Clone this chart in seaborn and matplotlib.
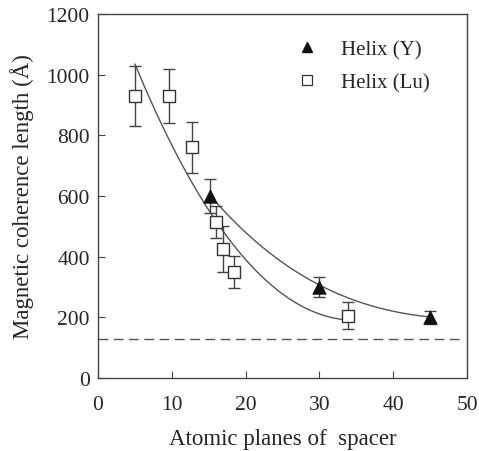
import numpy as np
import pandas as pd
import matplotlib
matplotlib.use("Agg")
import matplotlib.pyplot as plt
import seaborn as sns

# Helix (Y) data points
y_planes = [15.2, 30.0, 45.0]
y_length = [600, 300, 200]
y_err = [55, 33, 22]

# Helix (Lu) data points
lu_planes = [5.0, 9.6, 12.7, 16.0, 16.9, 18.4, 33.9]
lu_length = [930, 930, 760, 515, 425, 350, 205]
lu_err = [100, 90, 85, 52, 75, 52, 45]

# points
y_fit_x = [15.2, 19.0, 22.5, 24.6, 30.0, 35.0, 40.0, 44.7]
y_fit_v = [600, 505, 428, 390, 300, 255, 224, 200]
lu_fit_x = [5.0, 9.2, 12.3, 15.0, 18.5, 22.0, 24.8, 29.0, 33.5]
lu_fit_v = [1035, 803, 674, 549, 430, 339, 280, 225, 190]

limit_value = 130

sns.set_style("ticks")
plt.rcParams['font.family'] = ['Liberation Serif', 'DejaVu Serif']

fig = plt.figure(figsize=(4.79, 4.52), dpi=100)
ax = fig.add_axes([0.2046, 0.1615, 0.7704, 0.8053])

line_col = '#555555'

# smooth fit curves through the read points
for fx, fv in [(y_fit_x, y_fit_v), (lu_fit_x, lu_fit_v)]:
    coef = np.polyfit(fx, fv, 3)
    xs = np.linspace(fx[0], fx[-1], 200)
    curve = pd.DataFrame({'x': xs, 'v': np.polyval(coef, xs)})
    sns.lineplot(data=curve, x='x', y='v', ax=ax, color=line_col, lw=1.0)

ax.axhline(limit_value, xmin=0.0, xmax=0.99, color=line_col, lw=1.0,
           dashes=(7, 4))

# error bars
ax.errorbar(y_planes, y_length, yerr=y_err, fmt='none', ecolor='#444444',
            elinewidth=1.0, capsize=4, capthick=1.0, zorder=3)
ax.errorbar(lu_planes, lu_length, yerr=lu_err, fmt='none', ecolor='#444444',
            elinewidth=1.0, capsize=4, capthick=1.0, zorder=3)

sns.scatterplot(x=lu_planes, y=lu_length, ax=ax, marker='s', s=80,
                facecolor='white', edgecolor='#333333', linewidth=1.0,
                zorder=4)
sns.scatterplot(x=y_planes, y=y_length, ax=ax, marker='^', s=95,
                color='#111111', edgecolor='#111111', linewidth=0.5,
                zorder=5)

# legend
h1 = plt.Line2D([], [], marker='^', ls='none', color='#111111', ms=7.5)
h2 = plt.Line2D([], [], marker='s', ls='none', mfc='white', mec='#333333',
                ms=6.5, mew=0.9)
ax.legend([h1, h2], ['Helix (Y)', 'Helix (Lu)'], frameon=False,
          loc='upper right', bbox_to_anchor=(0.95, 0.98), fontsize=15,
          handletextpad=1.15, labelspacing=0.65, handlelength=1.0)

ax.set_xlim(0, 50)
ax.set_ylim(0, 1200)
ax.set_xticks([0, 10, 20, 30, 40, 50])
ax.set_yticks([0, 200, 400, 600, 800, 1000, 1200])
ax.tick_params(direction='in', length=5, width=0.8, labelsize=15.5,
               color='#444444')
ax.tick_params(axis='x', pad=12)
ax.tick_params(axis='y', pad=6)
for sp in ax.spines.values():
    sp.set_visible(True)
    sp.set_color('#444444')
    sp.set_linewidth(1.0)

ax.set_xlabel('Atomic planes of  spacer', fontsize=16.5, labelpad=10)
ax.set_ylabel('Magnetic coherence length (Å)', fontsize=16.5, labelpad=9)

fig.savefig('out.png', dpi=100)
